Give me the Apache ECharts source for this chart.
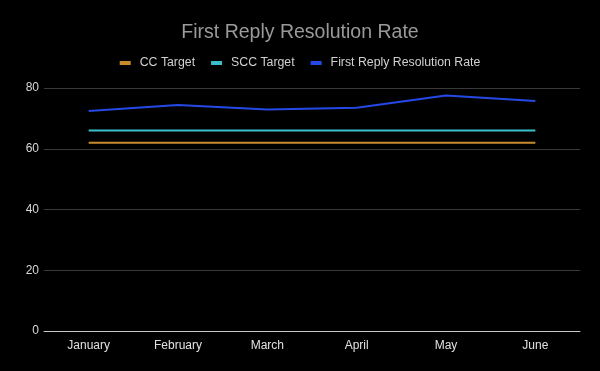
<!DOCTYPE html>
<html><head><meta charset="utf-8">
<script src="https://cdn.jsdelivr.net/npm/echarts@6/dist/echarts.min.js"></script>
<style>html,body{margin:0;padding:0;background:#000;}#c{width:600px;height:371px;}</style>
</head><body><div id="c"></div>
<script>
const categories = ["January","February","March","April","May","June"];
const ccTarget = [62,62,62,62,62,62];
const sccTarget = [66,66,66,66,66,66];
const firstReply = [72.4,74.4,72.9,73.5,77.5,75.7];
const yTicks = [0,20,40,60,80];

const chart = echarts.init(document.getElementById('c'));
const font = 'Liberation Sans, Arial, sans-serif';
chart.setOption({
  backgroundColor: '#000000',
  animation: false,
  title: {
    text: 'First Reply Resolution Rate', left: 'center', top: 18,
    textStyle: {color: '#9a9a9a', fontSize: 19.5, fontWeight: 'normal', fontFamily: font}
  },
  legend: {
    top: 52, left: 'center', itemWidth: 11, itemHeight: 4, itemGap: 16,
    icon: 'rect',
    textStyle: {color: '#d0d0d0', fontSize: 12.3, fontFamily: font, padding: [0, 0, 0, 4]},
    data: ['CC Target','SCC Target','First Reply Resolution Rate']
  },
  grid: {left: 44, right: 20, top: 88, bottom: 40},
  xAxis: {
    type: 'category', data: categories, boundaryGap: true,
    axisLine: {lineStyle: {color: '#c8c8c8', width: 1}},
    axisTick: {show: false},
    axisLabel: {color: '#e0e0e0', fontSize: 12, fontFamily: font, margin: 9}
  },
  yAxis: {
    type: 'value', min: yTicks[0], max: yTicks[yTicks.length-1], interval: 20,
    axisLine: {show: false}, axisTick: {show: false},
    axisLabel: {color: '#d8d8d8', fontSize: 12, fontFamily: font, margin: 5},
    splitLine: {lineStyle: {color: '#3a3a3a', width: 1}}
  },
  series: [
    {name: 'CC Target', type: 'line', data: ccTarget, symbol: 'none',
     lineStyle: {color: '#c98a2e', width: 2}, itemStyle: {color: '#c98a2e'}},
    {name: 'SCC Target', type: 'line', data: sccTarget, symbol: 'none',
     lineStyle: {color: '#3cbfcc', width: 2}, itemStyle: {color: '#3cbfcc'}},
    {name: 'First Reply Resolution Rate', type: 'line', data: firstReply, symbol: 'none',
     lineStyle: {color: '#2449e6', width: 2}, itemStyle: {color: '#2449e6'}}
  ]
});
</script></body></html>
